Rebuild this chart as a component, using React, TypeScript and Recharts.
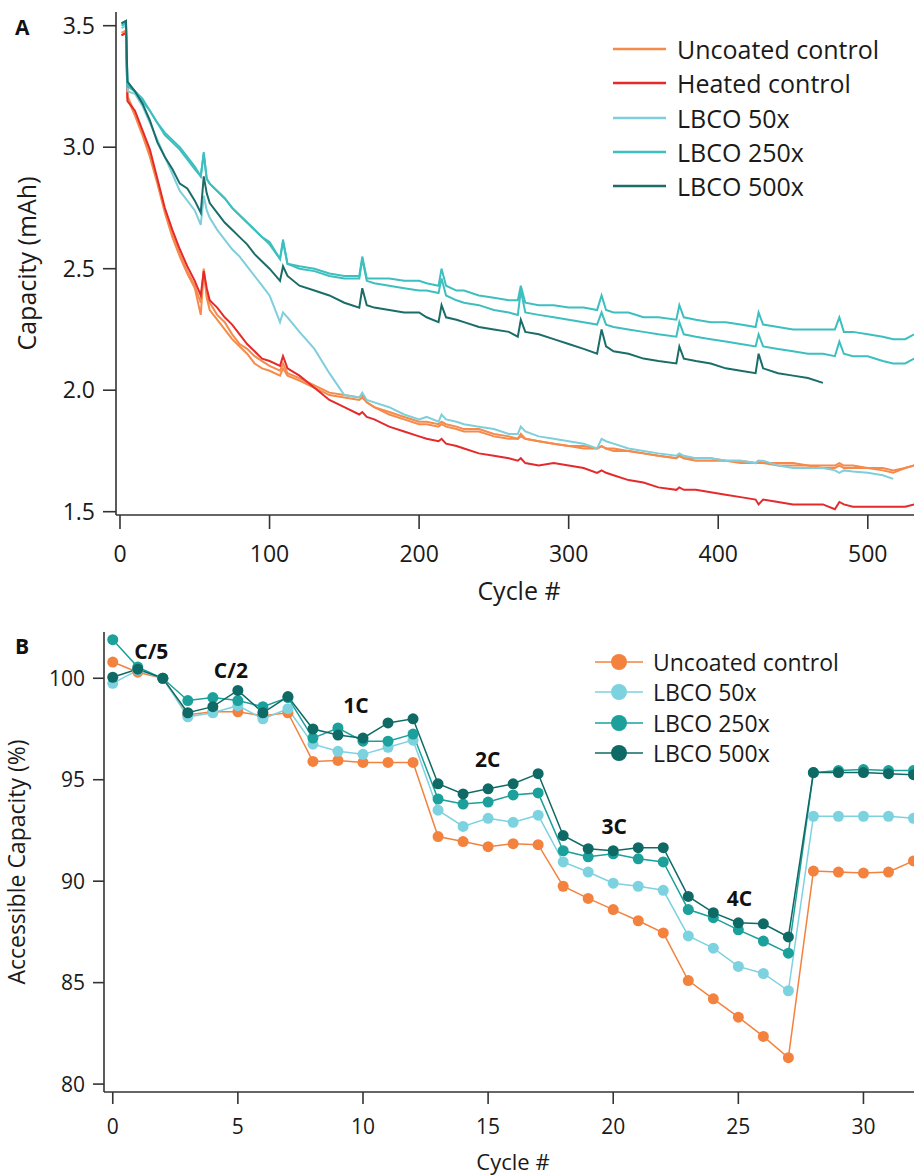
import React from 'react';
import { LineChart, Line, XAxis, YAxis, Legend, ReferenceDot, Label } from 'recharts';

const FONT = '"Open Sans", "Noto Sans", sans-serif';
const INK = '#1a1a1a';
const AXIS = { stroke: '#333', strokeWidth: 1.6 };

// ---------- Panel A: capacity vs cycle ----------
const cyclesA = [1, 4, 5, 10, 15, 20, 25, 30, 35, 40, 45, 50, 54, 56, 58, 60, 65, 70, 75, 80, 85, 90, 95, 100,
  107, 109, 112, 120, 130, 140, 150, 160, 162, 165, 170, 180, 190, 200, 205, 213, 215, 218, 225, 230, 240, 250, 260,
  266, 268, 271, 280, 290, 300, 310, 319, 322, 325, 330, 340, 350, 360, 372, 374, 377, 385, 395, 405, 415, 425, 427,
  430, 440, 450, 460, 470, 478, 481, 484, 490, 500, 510, 517, 525, 531];

const uncoatedA1 = [3.47, 3.48, 3.21, 3.14, 3.06, 2.97, 2.86, 2.74, 2.64, 2.56, 2.49, 2.43, 2.36, 2.50, 2.40, 2.36,
  2.31, 2.28, 2.23, 2.19, 2.17, 2.14, 2.12, 2.10, 2.08, 2.11, 2.07, 2.05, 2.02, 1.99, 1.98, 1.97, 1.98, 1.95, 1.93,
  1.91, 1.89, 1.87, 1.87, 1.86, 1.87, 1.86, 1.85, 1.84, 1.84, 1.82, 1.81, 1.80, 1.82, 1.80, 1.79, 1.78, 1.77, 1.77,
  1.76, 1.77, 1.76, 1.76, 1.75, 1.74, 1.73, 1.72, 1.73, 1.72, 1.72, 1.72, 1.71, 1.71, 1.70, 1.71, 1.70, 1.70, 1.70,
  1.69, 1.69, 1.69, 1.70, 1.69, 1.69, 1.68, 1.68, 1.67, 1.68, 1.69];
const uncoatedA2 = [3.46, 3.47, 3.20, 3.13, 3.05, 2.96, 2.85, 2.73, 2.63, 2.55, 2.48, 2.42, 2.31, 2.49, 2.38, 2.33,
  2.29, 2.25, 2.21, 2.18, 2.15, 2.11, 2.09, 2.08, 2.06, 2.09, 2.06, 2.04, 2.01, 1.98, 1.97, 1.96, 1.97, 1.95, 1.93,
  1.90, 1.88, 1.86, 1.86, 1.85, 1.86, 1.85, 1.84, 1.83, 1.83, 1.81, 1.80, 1.80, 1.81, 1.80, 1.79, 1.78, 1.77, 1.76,
  1.76, 1.77, 1.76, 1.75, 1.75, 1.74, 1.73, 1.72, 1.73, 1.72, 1.71, 1.71, 1.71, 1.70, 1.70, 1.70, 1.70, 1.69, 1.69,
  1.69, 1.68, 1.68, 1.69, 1.68, 1.68, 1.68, 1.67, 1.66, 1.68, 1.69];
const heatedA = [3.46, 3.47, 3.19, 3.15, 3.07, 2.99, 2.87, 2.75, 2.66, 2.58, 2.51, 2.45, 2.39, 2.49, 2.42, 2.37,
  2.34, 2.30, 2.27, 2.23, 2.19, 2.16, 2.13, 2.12, 2.10, 2.14, 2.09, 2.06, 2.01, 1.96, 1.93, 1.90, 1.91, 1.89, 1.88,
  1.85, 1.83, 1.81, 1.80, 1.79, 1.80, 1.78, 1.77, 1.76, 1.74, 1.73, 1.72, 1.71, 1.72, 1.70, 1.69, 1.70, 1.69, 1.68,
  1.66, 1.67, 1.66, 1.65, 1.63, 1.62, 1.60, 1.59, 1.60, 1.59, 1.59, 1.58, 1.57, 1.56, 1.55, 1.53, 1.55, 1.54, 1.53,
  1.53, 1.53, 1.51, 1.54, 1.53, 1.52, 1.52, 1.52, 1.52, 1.52, 1.53];
const lbco50A = [3.49, 3.50, 3.23, 3.22, 3.17, 3.10, 3.03, 2.96, 2.89, 2.82, 2.78, 2.74, 2.68, 2.80, 2.74, 2.71,
  2.66, 2.62, 2.58, 2.55, 2.51, 2.47, 2.43, 2.39, 2.28, 2.32, 2.30, 2.24, 2.17, 2.07, 1.98, 1.97, 1.99, 1.96, 1.95,
  1.93, 1.90, 1.88, 1.89, 1.87, 1.90, 1.88, 1.87, 1.86, 1.85, 1.84, 1.82, 1.82, 1.85, 1.83, 1.81, 1.80, 1.79, 1.78,
  1.76, 1.80, 1.79, 1.78, 1.76, 1.75, 1.74, 1.73, 1.74, 1.73, 1.72, 1.72, 1.71, 1.71, 1.70, 1.71, 1.71, 1.69, 1.68,
  1.68, 1.68, 1.67, 1.66, 1.67, 1.665, 1.66, 1.65, 1.635, null, null];
const lbco250A1 = [3.51, 3.52, 3.26, 3.23, 3.20, 3.15, 3.10, 3.06, 3.03, 3.00, 2.96, 2.92, 2.88, 2.98, 2.87, 2.85,
  2.82, 2.79, 2.75, 2.72, 2.69, 2.66, 2.63, 2.61, 2.54, 2.62, 2.52, 2.51, 2.50, 2.48, 2.47, 2.47, 2.55, 2.46, 2.46,
  2.46, 2.45, 2.45, 2.44, 2.43, 2.50, 2.43, 2.41, 2.41, 2.39, 2.38, 2.37, 2.37, 2.43, 2.36, 2.35, 2.35, 2.34, 2.34,
  2.33, 2.39, 2.33, 2.32, 2.32, 2.30, 2.30, 2.29, 2.35, 2.30, 2.29, 2.28, 2.28, 2.27, 2.26, 2.32, 2.27, 2.26, 2.25,
  2.25, 2.25, 2.25, 2.30, 2.24, 2.24, 2.23, 2.22, 2.21, 2.21, 2.23];
const lbco250A2 = [3.50, 3.51, 3.25, 3.23, 3.19, 3.15, 3.10, 3.05, 3.02, 2.99, 2.95, 2.91, 2.88, 2.97, 2.87, 2.85,
  2.82, 2.79, 2.75, 2.72, 2.69, 2.66, 2.63, 2.60, 2.54, 2.61, 2.52, 2.50, 2.49, 2.47, 2.46, 2.46, 2.54, 2.45, 2.44,
  2.43, 2.42, 2.41, 2.41, 2.40, 2.46, 2.39, 2.37, 2.36, 2.35, 2.33, 2.32, 2.31, 2.41, 2.32, 2.31, 2.30, 2.29, 2.28,
  2.27, 2.32, 2.27, 2.26, 2.25, 2.24, 2.23, 2.22, 2.28, 2.23, 2.22, 2.21, 2.20, 2.19, 2.18, 2.23, 2.18, 2.17, 2.16,
  2.15, 2.15, 2.14, 2.20, 2.15, 2.14, 2.14, 2.12, 2.11, 2.11, 2.13];
const lbco500A = [3.51, 3.52, 3.27, 3.23, 3.18, 3.11, 3.02, 2.96, 2.91, 2.85, 2.83, 2.78, 2.73, 2.88, 2.81, 2.77,
  2.73, 2.69, 2.66, 2.63, 2.60, 2.56, 2.53, 2.50, 2.45, 2.51, 2.47, 2.43, 2.41, 2.39, 2.36, 2.34, 2.42, 2.35, 2.34,
  2.33, 2.32, 2.32, 2.30, 2.28, 2.35, 2.30, 2.29, 2.28, 2.26, 2.25, 2.24, 2.22, 2.29, 2.24, 2.23, 2.21, 2.19, 2.17,
  2.15, 2.25, 2.18, 2.16, 2.15, 2.13, 2.12, 2.11, 2.18, 2.13, 2.12, 2.11, 2.09, 2.08, 2.07, 2.15, 2.09, 2.07, 2.06,
  2.05, 2.03, null, null, null, null, null, null, null, null, null];

const xTicksA = [0, 100, 200, 300, 400, 500];
const yTicksA = [1.5, 2.0, 2.5, 3.0, 3.5];

const rowsA = cyclesA.map((c, i) => ({
  cycle: c,
  unc1: uncoatedA1[i],
  unc2: uncoatedA2[i],
  heated: heatedA[i],
  l50: lbco50A[i],
  l250a: lbco250A1[i],
  l250b: lbco250A2[i],
  l500: lbco500A[i],
}));

const COL_A = {
  unc: '#F58A4B',
  heated: '#E52A2C',
  l50: '#7ECFDB',
  l250: '#3DBFBF',
  l500: '#1A6D69',
};

const legendItemsA = [
  { name: 'Uncoated control', color: COL_A.unc },
  { name: 'Heated control', color: COL_A.heated },
  { name: 'LBCO 50x', color: COL_A.l50 },
  { name: 'LBCO 250x', color: COL_A.l250 },
  { name: 'LBCO 500x', color: COL_A.l500 },
];

// ---------- Panel B: rate capability ----------
const cyclesB = [0, 1, 2, 3, 4, 5, 6, 7, 8, 9, 10, 11, 12, 13, 14, 15, 16, 17, 18, 19, 20, 21, 22, 23, 24, 25, 26,
  27, 28, 29, 30, 31, 32];
const uncoatedB = [100.8, 100.3, 100.0, 98.2, 98.35, 98.35, 98.15, 98.3, 95.9, 95.95, 95.85, 95.85, 95.85, 92.2,
  91.95, 91.7, 91.85, 91.8, 89.75, 89.15, 88.6, 88.05, 87.45, 85.1, 84.2, 83.3, 82.35, 81.3, 90.5, 90.45, 90.4,
  90.45, 91.0];
const lbco50B = [99.75, 100.4, 100.0, 98.1, 98.3, 98.65, 98.0, 98.5, 96.75, 96.4, 96.25, 96.6, 96.95, 93.5, 92.7,
  93.1, 92.9, 93.25, 90.95, 90.45, 89.9, 89.75, 89.55, 87.3, 86.7, 85.8, 85.45, 84.6, 93.2, 93.2, 93.2, 93.2, 93.1];
const lbco250B = [101.9, 100.55, 100.0, 98.9, 99.05, 98.9, 98.6, 99.05, 97.05, 97.55, 96.9, 96.9, 97.25, 94.05,
  93.8, 93.9, 94.25, 94.35, 91.5, 91.2, 91.35, 91.1, 90.95, 88.6, 88.2, 87.6, 87.05, 86.45, 95.35, 95.45, 95.5,
  95.45, 95.45];
const lbco500B = [100.05, 100.45, 100.0, 98.3, 98.6, 99.4, 98.3, 99.1, 97.5, 97.2, 97.05, 97.8, 98.0, 94.8, 94.3,
  94.55, 94.8, 95.3, 92.25, 91.6, 91.5, 91.65, 91.65, 89.25, 88.45, 87.95, 87.9, 87.25, 95.35, 95.35, 95.35, 95.3,
  95.25];

const xTicksB = [0, 5, 10, 15, 20, 25, 30];
const yTicksB = [80, 85, 90, 95, 100];

const rateLabels = ['C/5', 'C/2', '1C', '2C', '3C', '4C'];
const rateLabelCycle = [1.54, 4.72, 9.72, 14.98, 20.04, 25.04];
const rateLabelValue = [101.33, 100.38, 98.64, 96.01, 92.71, 89.15];

const rowsB = cyclesB.map((c, i) => ({
  cycle: c,
  unc: uncoatedB[i],
  l50: lbco50B[i],
  l250: lbco250B[i],
  l500: lbco500B[i],
}));

const COL_B = {
  unc: '#F4823F',
  l50: '#7DD2E0',
  l250: '#1BA09B',
  l500: '#0F6A65',
};

const legendItemsB = [
  { name: 'Uncoated control', color: COL_B.unc },
  { name: 'LBCO 50x', color: COL_B.l50 },
  { name: 'LBCO 250x', color: COL_B.l250 },
  { name: 'LBCO 500x', color: COL_B.l500 },
];

function LegendA() {
  return (
    <div style={{ fontFamily: FONT }}>
      {legendItemsA.map((it) => (
        <div key={it.name} style={{ display: 'flex', alignItems: 'center', height: 34.3 }}>
          <svg width={53} height={6} style={{ marginRight: 11, display: 'block' }}>
            <line x1={0} x2={53} y1={3} y2={3} stroke={it.color} strokeWidth={2.5} />
          </svg>
          <span style={{ fontSize: 25, color: INK, lineHeight: '34.3px', whiteSpace: 'nowrap' }}>{it.name}</span>
        </div>
      ))}
    </div>
  );
}

function LegendB() {
  return (
    <div style={{ fontFamily: FONT }}>
      {legendItemsB.map((it) => (
        <div key={it.name} style={{ display: 'flex', alignItems: 'center', height: 30.5 }}>
          <svg width={48} height={20} style={{ marginRight: 10, display: 'block' }}>
            <line x1={0} x2={48} y1={10} y2={10} stroke={it.color} strokeWidth={1.6} />
            <circle cx={24} cy={10} r={8} fill={it.color} />
          </svg>
          <span style={{ fontSize: 23, color: INK, lineHeight: '30.5px', whiteSpace: 'nowrap' }}>{it.name}</span>
        </div>
      ))}
    </div>
  );
}

export default function App() {
  const tickA = { fontSize: 23, fill: INK, fontFamily: FONT };
  const tickB = { fontSize: 21, fill: INK, fontFamily: FONT };
  return (
    <div
      style={{
        position: 'absolute',
        left: 0,
        top: 0,
        width: 914,
        height: 1176,
        background: '#fff',
        overflow: 'hidden',
        fontFamily: FONT,
      }}
    >
      <div style={{ position: 'absolute', left: 0, top: 0 }}>
        <LineChart width={914} height={610} data={rowsA} margin={{ top: 12, right: 0, bottom: 0, left: 0 }}>
          <XAxis
            dataKey="cycle"
            type="number"
            domain={[-2.67, 530.9]}
            allowDataOverflow
            ticks={xTicksA}
            interval={0}
            height={95}
            tickSize={14}
            tickMargin={17}
            axisLine={AXIS}
            tickLine={AXIS}
            tick={tickA}
          >
            <Label value="Cycle #" position="insideBottom" offset={10} dx={4} style={{ fontSize: 25, fill: INK, fontFamily: FONT }} />
          </XAxis>
          <XAxis xAxisId="top" orientation="top" type="number" domain={[0, 1]} height={0} tick={false} tickLine={false} axisLine={AXIS} />
          <YAxis
            type="number"
            domain={[1.4864, 3.5564]}
            allowDataOverflow
            ticks={yTicksA}
            interval={0}
            width={116}
            tickSize={13}
            tickMargin={8}
            tickFormatter={(v) => Number(v).toFixed(1)}
            axisLine={AXIS}
            tickLine={AXIS}
            tick={tickA}
          >
            <Label
              value="Capacity (mAh)"
              angle={-90}
              position="insideLeft"
              offset={27}
              style={{ fontSize: 25, fill: INK, textAnchor: 'middle', fontFamily: FONT }}
            />
          </YAxis>
          <Legend
            layout="vertical"
            align="center"
            verticalAlign="middle"
            wrapperStyle={{ left: 613, top: 32, width: 300, height: 175 }}
            content={() => <LegendA />}
          />
          <Line dataKey="unc2" name="Uncoated control (rep)" legendType="none" stroke={COL_A.unc} strokeWidth={2} dot={false} activeDot={false} isAnimationActive={false} />
          <Line dataKey="unc1" name="Uncoated control" stroke={COL_A.unc} strokeWidth={2} dot={false} activeDot={false} isAnimationActive={false} />
          <Line dataKey="heated" name="Heated control" stroke={COL_A.heated} strokeWidth={2} dot={false} activeDot={false} isAnimationActive={false} />
          <Line dataKey="l50" name="LBCO 50x" stroke={COL_A.l50} strokeWidth={2} dot={false} activeDot={false} isAnimationActive={false} />
          <Line dataKey="l250b" name="LBCO 250x (rep)" legendType="none" stroke={COL_A.l250} strokeWidth={2} dot={false} activeDot={false} isAnimationActive={false} />
          <Line dataKey="l250a" name="LBCO 250x" stroke={COL_A.l250} strokeWidth={2} dot={false} activeDot={false} isAnimationActive={false} />
          <Line dataKey="l500" name="LBCO 500x" stroke={COL_A.l500} strokeWidth={2} dot={false} activeDot={false} isAnimationActive={false} />
        </LineChart>
      </div>

      <div style={{ position: 'absolute', left: 0, top: 600 }}>
        <LineChart width={914} height={576} data={rowsB} margin={{ top: 32, right: 0, bottom: 0, left: 0 }}>
          <XAxis
            dataKey="cycle"
            type="number"
            domain={[-0.35, 32.02]}
            allowDataOverflow
            ticks={xTicksB}
            interval={0}
            height={84}
            tickSize={12}
            tickMargin={15}
            axisLine={AXIS}
            tickLine={AXIS}
            tick={tickB}
          >
            <Label value="Cycle #" position="insideBottom" offset={6} dx={4} style={{ fontSize: 22, fill: INK, fontFamily: FONT }} />
          </XAxis>
          <XAxis xAxisId="top" orientation="top" type="number" domain={[0, 1]} height={0} tick={false} tickLine={false} axisLine={AXIS} />
          <YAxis
            type="number"
            domain={[79.61, 102.28]}
            allowDataOverflow
            ticks={yTicksB}
            interval={0}
            width={104}
            tickSize={11}
            tickMargin={8}
            axisLine={AXIS}
            tickLine={AXIS}
            tick={tickB}
          >
            <Label
              value="Accessible Capacity (%)"
              angle={-90}
              position="insideLeft"
              offset={17}
              style={{ fontSize: 23, fill: INK, textAnchor: 'middle', fontFamily: FONT }}
            />
          </YAxis>
          <Legend
            layout="vertical"
            align="center"
            verticalAlign="middle"
            wrapperStyle={{ left: 595, top: 46.5, width: 300, height: 125 }}
            content={() => <LegendB />}
          />
          <Line dataKey="unc" name="Uncoated control" stroke={COL_B.unc} strokeWidth={1.5}
            dot={{ r: 5.5, fill: COL_B.unc, stroke: COL_B.unc, strokeWidth: 0 }} activeDot={false} isAnimationActive={false} />
          <Line dataKey="l50" name="LBCO 50x" stroke={COL_B.l50} strokeWidth={1.5}
            dot={{ r: 5.5, fill: COL_B.l50, stroke: COL_B.l50, strokeWidth: 0 }} activeDot={false} isAnimationActive={false} />
          <Line dataKey="l250" name="LBCO 250x" stroke={COL_B.l250} strokeWidth={1.5}
            dot={{ r: 5.5, fill: COL_B.l250, stroke: COL_B.l250, strokeWidth: 0 }} activeDot={false} isAnimationActive={false} />
          <Line dataKey="l500" name="LBCO 500x" stroke={COL_B.l500} strokeWidth={1.5}
            dot={{ r: 5.5, fill: COL_B.l500, stroke: COL_B.l500, strokeWidth: 0 }} activeDot={false} isAnimationActive={false} />
          {rateLabels.map((t, i) => (
            <ReferenceDot
              key={t}
              x={rateLabelCycle[i]}
              y={rateLabelValue[i]}
              r={0}
              fill="none"
              stroke="none"
              label={{ value: t, position: 'center', style: { fontSize: 21, fontWeight: 700, fill: '#111', fontFamily: FONT } }}
            />
          ))}
        </LineChart>
      </div>

      <svg width={914} height={1176} style={{ position: 'absolute', left: 0, top: 0, pointerEvents: 'none' }}>
        <text x={15} y={35} fontSize={21} fontWeight={700} fill="#111" fontFamily={FONT}>A</text>
        <text x={15} y={654} fontSize={21} fontWeight={700} fill="#111" fontFamily={FONT}>B</text>
      </svg>
    </div>
  );
}
